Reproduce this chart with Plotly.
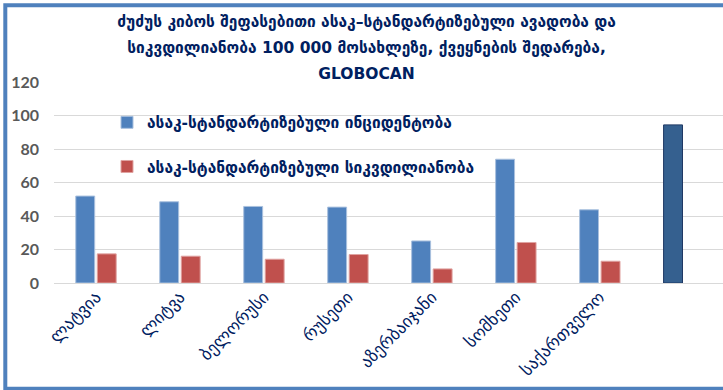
import plotly.graph_objects as go

categories = ["ლატვია", "ლიტვა", "ბელორუსი", "რუსეთი", "აზერბაიჯანი", "სომხეთი", "საქართველო", " "]
incidence = [51.9, 48.5, 45.7, 45.3, 25.1, 73.9, 43.7, 94.4]
mortality = [17.4, 16.0, 14.2, 17.0, 8.4, 24.2, 13.0, None]
y_ticks = [0, 20, 40, 60, 80, 100, 120]

title_lines = ["ძუძუს კიბოს შეფასებითი ასაკ–სტანდარტიზებული ავადობა და",
               "სიკვდილიანობა 100 000 მოსახლეზე, ქვეყნების შედარება,",
               "GLOBOCAN"]
name_inc = "ასაკ-სტანდარტიზებული ინციდენტობა"
name_mort = "ასაკ-სტანდარტიზებული სიკვდილიანობა"

NAVY = "#002060"
GEO_FONT = "DejaVu Sans"

inc_colors = ["#4F81BD"] * 7 + ["#35608F"]
inc_lines = ["#A9C0DE"] * 7 + ["#1F3864"]

fig = go.Figure()
fig.add_trace(go.Bar(
    x=categories, y=incidence, name=name_inc, legend="legend",
    marker=dict(color=inc_colors, line=dict(color=inc_lines, width=1)),
))
fig.add_trace(go.Bar(
    x=categories, y=mortality, name=name_mort, legend="legend2",
    marker=dict(color="#C0504D", line=dict(color="#E0A3A1", width=1)),
))

L, T, B = 54, 82.4, 107.3
W, H = 723, 390
pw = W - L
ph = H - T - B

def px_x(p):
    return (p - L) / pw

def px_y(p):
    return (H - B - p) / ph

title_text = "<br>".join(f'<span style="font-size:15.5px">{t}</span>' for t in title_lines)

fig.update_layout(
    width=W, height=H,
    margin=dict(l=L, r=0, t=T, b=B, pad=0),
    paper_bgcolor="white", plot_bgcolor="white",
    barmode="group", bargap=0.488, bargroupgap=0.12,
    title=dict(text=title_text, x=0.507, xanchor="center", y=1 - 27 / H, yanchor="middle",
               font=dict(family=GEO_FONT, size=20, color=NAVY, weight="bold")),
    legend=dict(x=px_x(107), y=px_y(123), xanchor="left", yanchor="middle",
                font=dict(family=GEO_FONT, size=15.5, color=NAVY, weight="bold"),
                bgcolor="rgba(0,0,0,0)"),
    legend2=dict(x=px_x(107), y=px_y(167), xanchor="left", yanchor="middle",
                 font=dict(family=GEO_FONT, size=15.5, color=NAVY, weight="bold"),
                 bgcolor="rgba(0,0,0,0)"),
    xaxis=dict(range=[-0.5, 7.467], tickangle=-45, showgrid=False, showline=False,
               ticks="", tickfont=dict(family=GEO_FONT, size=17, color=NAVY)),
    yaxis=dict(range=[0, 120], tickvals=y_ticks, showgrid=True, gridcolor="#D9D9D9",
               gridwidth=1, zeroline=True, zerolinecolor="#D9D9D9", zerolinewidth=1,
               showline=False, ticks="", ticklabelstandoff=14,
               tickfont=dict(family="Lato", size=16, color="#595959", weight="bold")),
    showlegend=True,
    shapes=[dict(type="rect", xref="paper", yref="paper",
                 x0=px_x(5.3), x1=px_x(760), y0=px_y(388), y1=px_y(6),
                 line=dict(color="#4F81BD", width=4), fillcolor="rgba(0,0,0,0)",
                 layer="below")],
)

fig.write_html("out.html")
